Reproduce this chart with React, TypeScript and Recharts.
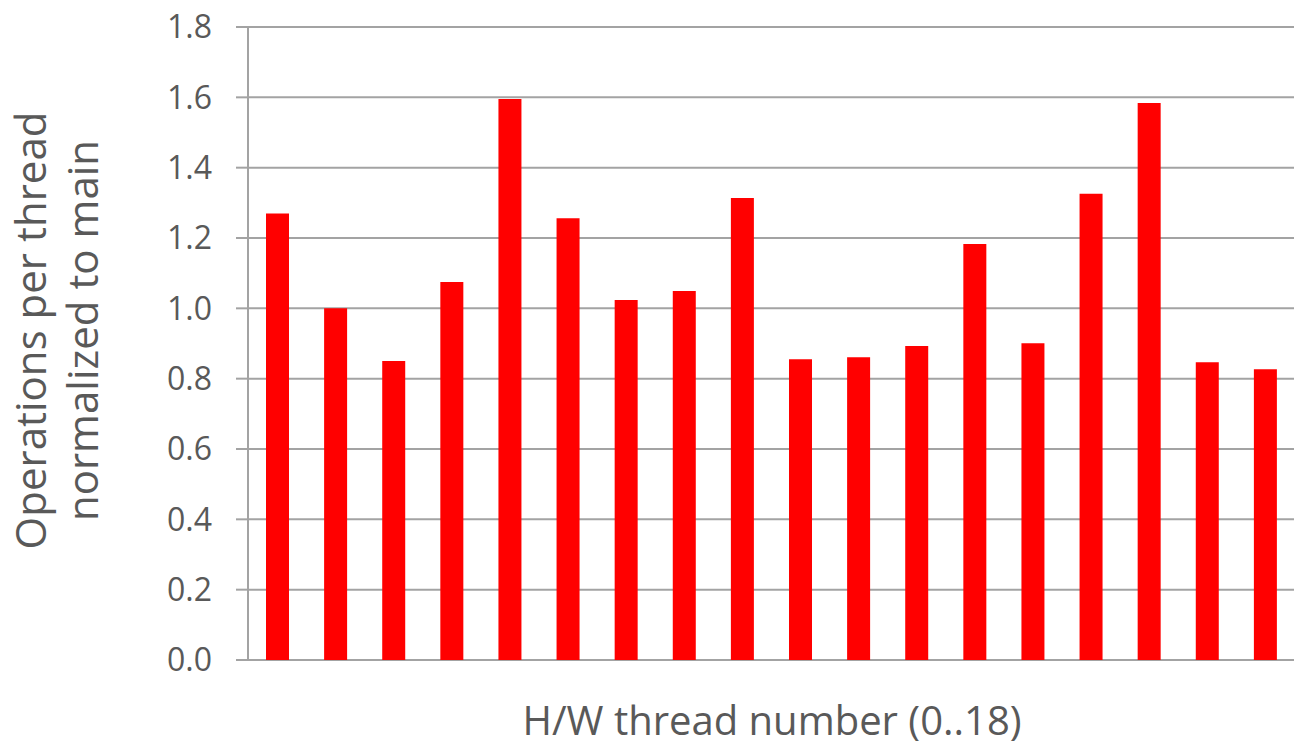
import React from 'react';
import { BarChart, Bar, XAxis, YAxis, CartesianGrid, Label } from 'recharts';

// H/W thread ids (18 bars in the picture)
const threads = ['0', '1', '2', '3', '4', '5', '6', '7', '8', '9', '10', '11', '12', '13', '14', '15', '16', '17'];
const opsNormalized = [1.27, 1.0, 0.85, 1.075, 1.595, 1.256, 1.024, 1.049, 1.314, 0.855, 0.861, 0.893, 1.183, 0.901, 1.326, 1.584, 0.847, 0.827];
const yTicks = [0, 0.2, 0.4, 0.6, 0.8, 1.0, 1.2, 1.4, 1.6, 1.8];

const yLabelLines = ['Operations per thread', 'normalized to main'];
const xLabelText = 'H/W thread number (0..18)';

const GRID = '#a3a3a3';
const TEXT = '#595959';
const FONT = '"Open Sans", sans-serif';

const chartData = threads.map((t, i) => ({ thread: t, value: opsNormalized[i] }));

const YTitle = (props: any) => {
  const vb = props.viewBox || {};
  const cy = vb.y + vb.height / 2 - 13;
  return (
    <g>
      {yLabelLines.map((line, i) => (
        <text
          key={line}
          x={0}
          y={0}
          transform={`translate(${46 + i * 52}, ${cy}) rotate(-90)`}
          textAnchor="middle"
          fill={TEXT}
          fontSize={42}
          fontFamily={FONT}
        >
          {line}
        </text>
      ))}
    </g>
  );
};

const XTitle = (props: any) => {
  const vb = props.viewBox || {};
  return (
    <text
      x={vb.x + vb.width / 2 + 1}
      y={735}
      textAnchor="middle"
      fill={TEXT}
      fontSize={40}
      fontFamily={FONT}
    >
      {xLabelText}
    </text>
  );
};

export default function App() {
  return (
    <div style={{ position: 'absolute', left: 0, top: 0, width: 1306, height: 750, background: '#fff' }}>
      <BarChart
        width={1306}
        height={750}
        data={chartData}
        margin={{ top: 27, right: 12, left: 0, bottom: 0 }}
      >
        <CartesianGrid vertical={false} stroke={GRID} strokeWidth={2} />
        <XAxis dataKey="thread" height={90} axisLine={false} tickLine={false} tick={false}>
          <Label content={<XTitle />} />
        </XAxis>
        <YAxis
          width={248}
          domain={[0, 1.8]}
          ticks={yTicks}
          interval={0}
          tickFormatter={(v: number) => v.toFixed(1)}
          tickSize={12}
          tickMargin={24}
          axisLine={{ stroke: GRID, strokeWidth: 2 }}
          tickLine={{ stroke: GRID, strokeWidth: 2 }}
          tick={{ fill: TEXT, fontSize: 32, fontFamily: FONT }}
        >
          <Label content={<YTitle />} />
        </YAxis>
        <Bar dataKey="value" fill="#ff0000" barSize={23} isAnimationActive={false} />
      </BarChart>
    </div>
  );
}
